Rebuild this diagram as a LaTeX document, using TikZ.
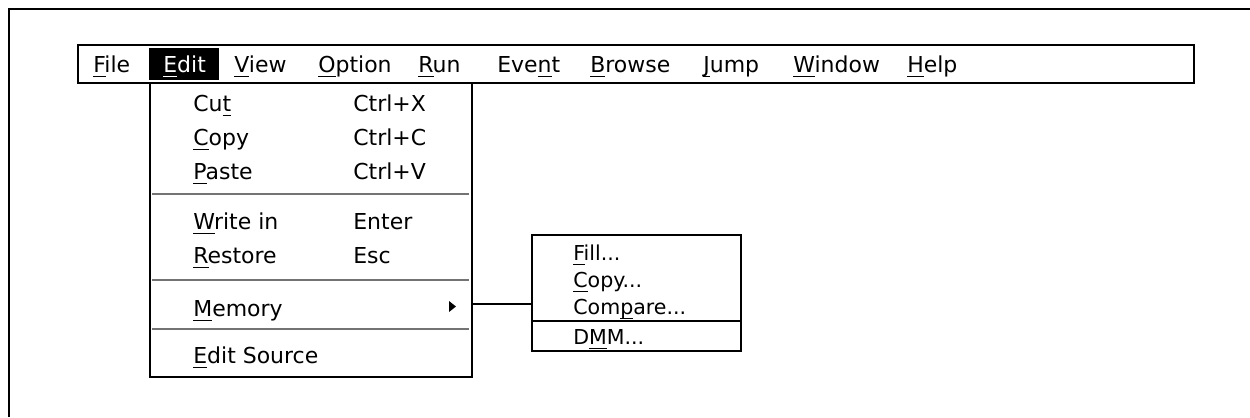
\documentclass[tikz,border=0pt]{standalone}
\usepackage{fontspec}
\setmainfont{DejaVu Sans}
\usetikzlibrary{fit}
% underlined access key with a fixed depth
\newcommand\hk[1]{\setbox0\hbox{#1}\rlap{\rule[-2.6pt]{\wd0}{0.6pt}}#1}
\tikzset{
  item/.style={anchor=base west, inner sep=0pt, font=\fontsize{12.5}{15}\selectfont},
  subitem/.style={anchor=base west, inner sep=0pt, font=\fontsize{11.7}{14}\selectfont},
  sep/.style={draw=black!55, line width=1.1pt}
}
\begin{document}
\begin{tikzpicture}[x=0.02cm, y=-0.02cm]
\useasboundingbox (0,0) rectangle (1250,417);
\draw[line width=1pt] (9,417) -- (9,9) -- (1250,9);

\begin{scope}[every node/.style={draw, line width=1pt, inner sep=0pt}]
    \node[fit={(78,45) (1194,83)}] (menubar) {};
    \node[fit={(150,83) (472,377)}] (editmenu) {};
    \node[fit={(532,235) (741,351)}] (memmenu) {};
\end{scope}
\node[fit={(149,48) (219,80)}, fill=black, inner sep=0pt] (editsel) {};

% menu bar
\foreach \x/\t in {93/\hk{F}ile, 234/\hk{V}iew, 318/\hk{O}ption, 418/\hk{R}un,
                   497/Eve\hk{n}t, 590/\hk{B}rowse, 703/\hk{J}ump, 793/\hk{W}indow, 907/\hk{H}elp}
    \node[item] (bar\x) at (\x,72) {\t};
\node[item, text=white] (baredit) at (163,72) {\hk{E}dit};

% Edit menu
\foreach \y/\t/\s in {111/Cu\hk{t}/Ctrl+X, 145/\hk{C}opy/Ctrl+C, 179/\hk{P}aste/Ctrl+V,
                      229/\hk{W}rite in/Enter, 263/\hk{R}estore/Esc}
{
    \node[item] (cmd\y) at (193,\y) {\t};
    \node[item] (key\y) at (353,\y) {\s};
}
\node[item] (cmdmem) at (193,316) {\hk{M}emory};
\node[item] (cmdsrc) at (193,363) {\hk{E}dit Source};
\draw[sep] (152,194) -- (469,194);
\draw[sep] (152,280) -- (469,280);
\draw[sep] (152,329) -- (469,329);
\fill (449,301) -- (456,306.5) -- (449,312) -- cycle;
\coordinate (memarrow) at (456,304);

% Memory submenu
\node[subitem] (fill) at (573,260) {\hk{F}ill...};
\node[subitem] (copy) at (573,287) {\hk{C}opy...};
\node[subitem] (comp) at (573,314) {Com\hk{p}are...};
\node[subitem] (dmm) at (573,344) {D\hk{M}M...};
\draw[line width=1pt] (memmenu.west |- 0,321) -- (memmenu.east |- 0,321);

\draw[line width=1pt] (editmenu.east |- memarrow) -- (memmenu.west |- memarrow);
\end{tikzpicture}
\end{document}
